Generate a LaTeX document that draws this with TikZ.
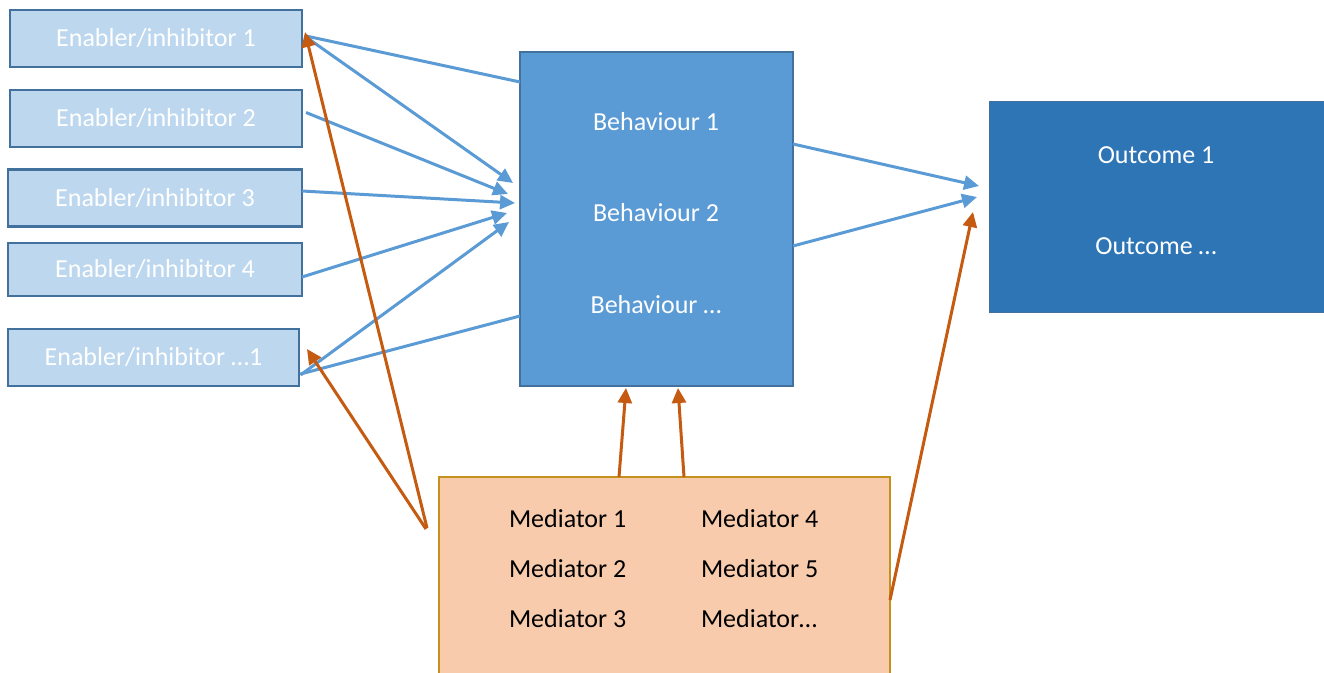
\documentclass[tikz,border=0pt]{standalone}
\usepackage{fontspec}
\setmainfont{Carlito}
\usetikzlibrary{arrows.meta,calc}
\definecolor{enfill}{HTML}{BDD7EE}
\definecolor{edgeblue}{HTML}{41719C}
\definecolor{behfill}{HTML}{5B9BD5}
\definecolor{outfill}{HTML}{2E75B6}
\definecolor{medfill}{HTML}{F8CBAD}
\definecolor{mededge}{HTML}{C4921C}
\definecolor{arrblue}{HTML}{5B9BD5}
\definecolor{arrorange}{HTML}{C55A11}
\begin{document}
\begin{tikzpicture}[x=1pt,y=-1pt,
  every node/.style={font=\fontsize{26}{31}\selectfont, inner sep=0pt, outer sep=0pt},
  enbox/.style={draw=edgeblue, line width=2.6pt, fill=enfill, text=white,
    text height=16.5pt, text depth=0pt, minimum height=57pt},
  behbox/.style={draw=edgeblue, line width=2.4pt, fill=behfill},
  outbox/.style={draw=edgeblue, line width=1pt, fill=outfill},
  medbox/.style={draw=mededge, line width=2.8pt, fill=medfill},
  wlbl/.style={text=white, anchor=base},
  mlbl/.style={text=black, anchor=base west},
  bconn/.style={draw=arrblue, line width=3pt},
  barr/.style={bconn, -{Triangle[length=15pt,width=14pt]}},
  oarr/.style={draw=arrorange, line width=3pt, -{Triangle[length=15pt,width=14pt]}}
]
\useasboundingbox (0,0) rectangle (1324,672);
\fill[white] (0,0) rectangle (1324,672);

% enabler boxes
\node[enbox, minimum width=292pt] (e1) at (156,38.5) {Enabler/inhibitor 1};
\node[enbox, minimum width=292pt] (e2) at (156,118.5) {Enabler/inhibitor 2};
\node[enbox, minimum width=294pt] (e3) at (155,198) {Enabler/inhibitor 3};
\node[enbox, minimum width=294pt, minimum height=53pt] (e4) at (155,269.5) {Enabler/inhibitor 4};
\node[enbox, minimum width=291pt] (e5) at (153.5,357.5) {Enabler/inhibitor …1};

% behaviour box
\node[behbox, minimum width=273pt, minimum height=334pt] (beh) at (656.5,219) {};
\node[wlbl] (b1) at (656,130.4) {Behaviour 1};
\node[wlbl] (b2) at (656,221.4) {Behaviour 2};
\node[wlbl] (b3) at (656,313.4) {Behaviour …};

% outcome box
\node[outbox, minimum width=337pt, minimum height=211pt] (out) at (1157.5,206.5) {};
\node[wlbl] (o1) at (1156,163.4) {Outcome 1};
\node[wlbl] (o2) at (1156,254.4) {Outcome …};

% mediator box
\node[medbox, minimum width=451pt, minimum height=205pt] (med) at (664.5,579.5) {};
\node[mlbl] (m1) at (509,527.4) {Mediator 1};
\node[mlbl] (m2) at (509,577.4) {Mediator 2};
\node[mlbl] (m3) at (509,627.4) {Mediator 3};
\node[mlbl] (m4) at (701,527.4) {Mediator 4};
\node[mlbl] (m5) at (701,577.4) {Mediator 5};
\node[mlbl] (m6) at (701,627.4) {Mediator…};

% free ends of connectors
\coordinate (t1) at (513,183);
\coordinate (t2) at (508,194);
\coordinate (t3) at (515,203);
\coordinate (t4) at (507,213);
\coordinate (t5) at (509,222);
\coordinate (u1) at (979,186);
\coordinate (u2) at (977,197);
\coordinate (u3) at (973,212);
\coordinate (v1) at (305,32);
\coordinate (v2) at (307,349);
\coordinate (w) at (427,528);
\coordinate (w2) at (426,529);

% blue connectors
\draw[bconn] ($(e1.east)+(4,-2.5)$) -- ($(beh.north west)+(0,30)$);
\draw[barr] ($(e1.east)+(4,-1.5)$) -- (t1);
\draw[barr] ($(e2.east)+(4,-6)$) -- (t2);
\draw[barr] ($(e3.east)+(0,-7)$) -- (t3);
\draw[barr] ($(e4.east)+(0,7.5)$) -- (t4);
\draw[barr] ($(e5.east)+(1.5,17.5)$) -- (t5);
\draw[bconn] ($(e5.east)+(1.5,16.5)$) -- ($(beh.north west)+(0,264)$);
\draw[barr] ($(beh.north east)+(0,92)$) -- (u1);
\draw[barr] ($(beh.north east)+(0,194)$) -- (u2);

% orange connectors
\draw[oarr] (w) -- (v1);
\draw[oarr] (w2) -- (v2);
\draw[oarr] ($(med.north west)+(180,0)$) -- ($(beh.south west)+(106,2)$);
\draw[oarr] ($(med.north west)+(245,0)$) -- ($(beh.south west)+(158,2)$);
\draw[oarr] ($(med.north east)+(0,123)$) -- (u3);
\end{tikzpicture}
\end{document}
